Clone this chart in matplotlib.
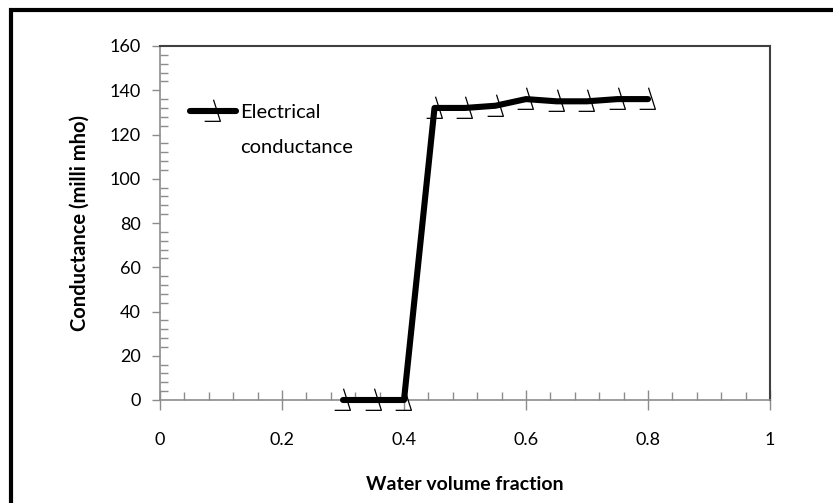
import numpy as np
import matplotlib
matplotlib.use("Agg")
import matplotlib.pyplot as plt
from matplotlib.path import Path
from matplotlib.lines import Line2D
from matplotlib.patches import Rectangle
from matplotlib.ticker import MultipleLocator

plt.rcParams['font.family'] = ['Lato', 'DejaVu Sans']

# measured conductance vs water volume fraction
water_fraction = [0.30, 0.35, 0.40, 0.45, 0.50, 0.55, 0.60, 0.65, 0.70, 0.75, 0.80]
conductance = [0, 0, 0, 132, 132, 133, 136, 135, 135, 136, 136]
series_label = ["Electrical", "conductance"]

# slanted bracket marker (slash with a foot on the left)
bracket = Path([(0, 12), (7, -10), (-9, -10)],
               [Path.MOVETO, Path.LINETO, Path.LINETO])

fig = plt.figure(figsize=(8.33, 5.03), dpi=100)
ax = fig.add_axes([160 / 833, 1 - 400 / 503, 610 / 833, 354 / 503])

line, = ax.plot(water_fraction, conductance, color='black', lw=4.4,
                solid_capstyle='round', solid_joinstyle='round',
                marker=bracket, markersize=17, markerfacecolor='none',
                markeredgecolor='black', markeredgewidth=0.9, zorder=3,
                clip_on=False)

ax.set_xlim(0, 1)
ax.set_ylim(0, 160)
ax.xaxis.set_major_locator(MultipleLocator(0.2))
ax.xaxis.set_minor_locator(MultipleLocator(0.04))
ax.yaxis.set_major_locator(MultipleLocator(20))
ax.yaxis.set_minor_locator(MultipleLocator(4))
ax.xaxis.set_major_formatter(plt.FuncFormatter(lambda v, p: f"{v:g}"))

tick_grey = '#8c8c8c'
ax.tick_params(axis='x', which='major', direction='inout', length=14,
               width=1, color=tick_grey, pad=16, labelsize=13)
ax.tick_params(axis='x', which='minor', direction='in', length=6,
               width=1, color=tick_grey)
ax.tick_params(axis='y', which='major', direction='out', length=6,
               width=1, color=tick_grey, pad=8, labelsize=13)
ax.tick_params(axis='y', which='minor', direction='in', length=6,
               width=1, color=tick_grey)

for side in ('left', 'bottom'):
    ax.spines[side].set_color(tick_grey)
    ax.spines[side].set_linewidth(1.2)
for side in ('top', 'right'):
    ax.spines[side].set_color('#404040')
    ax.spines[side].set_linewidth(1.5)

ax.set_xlabel("Water volume fraction", fontsize=14, fontweight='bold',
              labelpad=20)
ax.set_ylabel("Conductance (milli mho)", fontsize=14.5, fontweight='bold',
              labelpad=14)

blank = Line2D([], [], lw=0)
ax.legend([line, blank], series_label, loc='upper left',
          bbox_to_anchor=(0.049, 0.836), frameon=False, fontsize=14.5,
          handlelength=2.3, handletextpad=0.2, labelspacing=0.9,
          numpoints=1, borderaxespad=0, borderpad=0)

# outer border round the whole chart
fig.patches.append(Rectangle((11 / 833, -0.2), 1.2, 1.2 - 10 / 503,
                             transform=fig.transFigure, fill=False,
                             edgecolor='black', lw=3, zorder=10))

fig.savefig("out.png", dpi=100)
